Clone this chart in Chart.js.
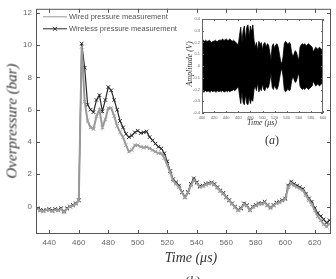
<!DOCTYPE html>
<html lang="en">
<head>
  <meta charset="UTF-8">
  <title>Overpressure</title>
  <script src="https://cdn.jsdelivr.net/npm/chart.js"></script>
  <style>
    body { margin: 0; background: #fff; }
    #wrap { position: relative; width: 336px; height: 279px; overflow: hidden; }
    #main { position: absolute; left: 0; top: 0; }
    #inset { position: absolute; left: 185px; top: 12px; }
    .lbl { position: absolute; font-family: 'Liberation Serif', serif; font-style: italic; font-weight: normal; color: #333; white-space: nowrap; }
  </style>
</head>
<body>
<div id="wrap">
  <canvas id="main" width="336" height="279"></canvas>
  <canvas id="inset" width="145" height="114"></canvas>
  <div class="lbl" style="left:12px;top:121px;font-size:15px;transform:translate(-50%,-50%) rotate(-90deg);">Overpressure (bar)</div>
  <div class="lbl" style="left:191px;top:258px;font-size:14px;transform:translate(-50%,-50%);">Time (μs)</div>
  <div class="lbl" style="left:193px;top:281px;font-size:13px;font-style:normal;transform:translate(-50%,-50%);">(<i>b</i>)</div>
  <div class="lbl" style="left:272px;top:140px;font-size:12px;font-style:normal;transform:translate(-50%,-50%);">(<i>a</i>)</div>
  <div class="lbl" style="left:189px;top:64px;font-size:8px;transform:translate(-50%,-50%) rotate(-90deg);">Amplitude (V)</div>
  <div class="lbl" style="left:262px;top:122px;font-size:8px;transform:translate(-50%,-50%);">Time (μs)</div>
</div>

<script>
  // main plot (b)
  const times = [];
  for (let t = 432; t <= 630; t += 2) times.push(t);

  const wired = [
    -0.15, -0.25, -0.3, -0.2, -0.2, -0.3, -0.2, -0.25, -0.15, -0.35,
    -0.15, 0.0, 0.05, 0.15, 0.35, 9.9, 6.5, 5.3, 4.9, 4.8,
    5.6, 6.0, 4.9, 5.4, 6.1, 6.1, 5.6, 5.0, 4.6, 4.3,
    3.8, 3.4, 3.5, 3.8, 3.8, 3.7, 3.65, 3.7, 3.6, 3.5,
    3.4, 3.3, 3.3, 3.0, 2.6, 2.1, 1.6, 1.4, 1.2, 0.85,
    0.55, 0.85, 1.3, 1.65, 1.45, 1.2, 1.25, 1.35, 1.4, 1.45,
    1.35, 1.15, 0.95, 0.8, 0.55, 0.35, 0.15, -0.05, -0.25, -0.15,
    0.15, 0.05, -0.25, -0.05, 0.05, 0.15, 0.15, 0.25, 0.05, -0.1,
    0.05, 0.2, 0.25, 0.35, 0.45, 1.2, 1.45, 1.3, 1.2, 1.1,
    1.0, 0.7, 0.4, 0.15, -0.25, -0.6, -0.85, -1.1, -1.25, -1.05
  ];
  const wireless = [
    -0.1, -0.2, -0.25, -0.2, -0.15, -0.25, -0.15, -0.2, -0.1, -0.3,
    -0.1, 0.0, 0.1, 0.2, 0.4, 10.1, 8.6, 6.3, 6.0, 5.85,
    6.6, 6.9, 5.9, 6.6, 7.4, 7.2, 6.6, 6.0, 5.3, 4.9,
    4.5, 4.3, 4.4, 4.6, 4.7, 4.55, 4.6, 4.65, 4.3, 4.1,
    3.9, 3.7, 3.6, 3.3, 2.8, 2.2, 1.7, 1.5, 1.3, 0.9,
    0.6, 0.9, 1.4, 1.75, 1.5, 1.25, 1.3, 1.4, 1.45, 1.5,
    1.4, 1.2, 1.0, 0.85, 0.6, 0.4, 0.2, 0.0, -0.2, -0.1,
    0.2, 0.1, -0.2, 0.0, 0.1, 0.2, 0.2, 0.3, 0.1, -0.05,
    0.1, 0.25, 0.3, 0.4, 0.5, 1.3, 1.55, 1.4, 1.3, 1.2,
    1.1, 0.8, 0.5, 0.3, -0.1, -0.4, -0.6, -0.8, -1.0, -0.85
  ];
  const xTicks = [440, 460, 480, 500, 520, 540, 560, 580, 600, 620];
  const yTicks = [0, 2, 4, 6, 8, 10, 12];
  const seriesNames = ['Wired pressure measurement', 'Wireless pressure measurement'];

  // inset (a): signal envelope
  const insetTimes = [];
  for (let t = 400; t <= 600; t += 2) insetTimes.push(t);
  const upperEnv = [
    0.21, 0.22, 0.21, 0.22, 0.21, 0.21, 0.22, 0.21, 0.20, 0.21,
    0.21, 0.22, 0.21, 0.21, 0.22, 0.22, 0.22, 0.23, 0.22, 0.22,
    0.23, 0.22, 0.22, 0.23, 0.22, 0.21, 0.22, 0.21, 0.20, 0.19,
    0.18, 0.26, 0.33, 0.20, 0.30, 0.34, 0.22, 0.33, 0.35, 0.25,
    0.34, 0.29, 0.35, 0.22, 0.16, 0.20, 0.13, 0.21, 0.18, 0.20,
    0.14, 0.19, 0.20, 0.16, 0.19, 0.18, 0.12, 0.05, 0.17, 0.19,
    0.15, 0.18, 0.19, 0.16, 0.10, 0.04, 0.02, 0.08, 0.19, 0.21,
    0.20, 0.18, 0.20, 0.19, 0.12, 0.08, 0.10, 0.13, 0.12, 0.08,
    0.05, 0.16, 0.18, 0.19, 0.18, 0.19, 0.17, 0.18, 0.19, 0.18,
    0.17, 0.16, 0.12, 0.14, 0.16, 0.15, 0.14, 0.16, 0.15, 0.14,
    0.15
  ];
  const lowerEnv = [
    -0.21, -0.22, -0.22, -0.21, -0.22, -0.21, -0.22, -0.22, -0.21, -0.22,
    -0.21, -0.22, -0.22, -0.21, -0.22, -0.21, -0.22, -0.21, -0.22, -0.22,
    -0.21, -0.22, -0.21, -0.22, -0.21, -0.21, -0.20, -0.21, -0.20, -0.19,
    -0.17, -0.25, -0.32, -0.22, -0.31, -0.33, -0.24, -0.32, -0.33, -0.26,
    -0.32, -0.28, -0.30, -0.20, -0.17, -0.21, -0.14, -0.22, -0.19, -0.21,
    -0.15, -0.20, -0.21, -0.17, -0.19, -0.18, -0.13, -0.06, -0.18, -0.20,
    -0.16, -0.19, -0.20, -0.17, -0.11, -0.05, -0.02, -0.09, -0.20, -0.22,
    -0.21, -0.19, -0.21, -0.20, -0.13, -0.09, -0.11, -0.14, -0.13, -0.09,
    -0.06, -0.17, -0.19, -0.20, -0.19, -0.20, -0.18, -0.19, -0.20, -0.19,
    -0.18, -0.17, -0.13, -0.15, -0.17, -0.16, -0.15, -0.17, -0.16, -0.15,
    -0.16
  ];
  const insetXTicks = [400, 420, 440, 460, 480, 500, 520, 540, 560, 580, 600];
  const insetYTicks = [-0.4, -0.3, -0.2, -0.1, 0, 0.1, 0.2, 0.3, 0.4];

  const tickFont = "'Liberation Sans Narrow', 'Liberation Sans', Arial, sans-serif";

  // box round the plot with inward ticks on all four sides
  function framePlugin(len, color) {
    return {
      id: 'frame',
      afterDraw(chart) {
        const { ctx, chartArea: a, scales } = chart;
        ctx.save();
        ctx.strokeStyle = color;
        ctx.lineWidth = 1;
        ctx.strokeRect(a.left + 0.5, a.top + 0.5, a.right - a.left - 1, a.bottom - a.top - 1);
        ctx.beginPath();
        scales.x.ticks.forEach(t => {
          const px = Math.round(scales.x.getPixelForValue(t.value)) + 0.5;
          ctx.moveTo(px, a.bottom); ctx.lineTo(px, a.bottom - len);
          ctx.moveTo(px, a.top); ctx.lineTo(px, a.top + len);
        });
        scales.y.ticks.forEach(t => {
          const py = Math.round(scales.y.getPixelForValue(t.value)) + 0.5;
          ctx.moveTo(a.left, py); ctx.lineTo(a.left + len, py);
          ctx.moveTo(a.right, py); ctx.lineTo(a.right - len, py);
        });
        ctx.stroke();
        ctx.restore();
      }
    };
  }

  const legendPlugin = {
    id: 'legendBox',
    afterDraw(chart) {
      const { ctx, chartArea: a } = chart;
      ctx.save();
      ctx.font = "7.5px 'Liberation Sans', Arial, sans-serif";
      ctx.textBaseline = 'middle';
      chart.data.datasets.forEach((ds, i) => {
        const y = a.top + 8 + i * 12;
        const x0 = a.left + 7, x1 = a.left + 31;
        ctx.strokeStyle = ds.borderColor;
        ctx.lineWidth = 1;
        ctx.beginPath(); ctx.moveTo(x0, y); ctx.lineTo(x1, y); ctx.stroke();
        if (i === 1) {
          const m = (x0 + x1) / 2;
          ctx.beginPath();
          ctx.moveTo(m - 2, y - 2); ctx.lineTo(m + 2, y + 2);
          ctx.moveTo(m - 2, y + 2); ctx.lineTo(m + 2, y - 2);
          ctx.stroke();
        }
        ctx.fillStyle = '#555';
        ctx.fillText(ds.label, x1 + 2, y);
      });
      ctx.restore();
    }
  };

  new Chart(document.getElementById('main'), {
    type: 'line',
    data: {
      datasets: [
        {
          label: seriesNames[0],
          data: wired.map((v, i) => ({ x: times[i], y: v })),
          borderColor: '#999999',
          borderWidth: 2,
          pointStyle: 'crossRot',
          pointRadius: 2.5,
          pointBorderColor: '#a0a0a0',
          pointBorderWidth: 1,
          tension: 0
        },
        {
          label: seriesNames[1],
          data: wireless.map((v, i) => ({ x: times[i], y: v })),
          borderColor: '#2a2a2a',
          borderWidth: 1.2,
          pointStyle: 'crossRot',
          pointRadius: 2.5,
          pointBorderColor: '#2a2a2a',
          pointBorderWidth: 1,
          tension: 0
        }
      ]
    },
    options: {
      responsive: false,
      animation: false,
      layout: { padding: { left: 0, right: 4, top: 8, bottom: 0 } },
      plugins: { legend: { display: false }, tooltip: { enabled: false } },
      scales: {
        x: {
          type: 'linear', min: 431, max: 631,
          afterBuildTicks: s => { s.ticks = xTicks.map(v => ({ value: v })); },
          afterFit: s => { s.height = 45; },
          grid: { display: false, drawTicks: false },
          border: { display: false },
          ticks: { padding: 4, color: '#666', font: { family: tickFont, size: 8 } }
        },
        y: {
          min: -1.7, max: 12.25,
          afterBuildTicks: s => { s.ticks = yTicks.map(v => ({ value: v })); },
          afterFit: s => { s.width = 36; },
          grid: { display: false, drawTicks: false },
          border: { display: false },
          ticks: { padding: 4, color: '#666', font: { family: tickFont, size: 8 } }
        }
      }
    },
    plugins: [framePlugin(4, '#555'), legendPlugin]
  });

  new Chart(document.getElementById('inset'), {
    type: 'line',
    data: {
      datasets: [
        {
          data: upperEnv.map((v, i) => ({ x: insetTimes[i], y: v })),
          borderColor: '#000',
          backgroundColor: '#000',
          borderWidth: 0.8,
          pointRadius: 0,
          fill: '+1',
          tension: 0
        },
        {
          data: lowerEnv.map((v, i) => ({ x: insetTimes[i], y: v })),
          borderColor: '#000',
          borderWidth: 0.8,
          pointRadius: 0,
          fill: false,
          tension: 0
        }
      ]
    },
    options: {
      responsive: false,
      animation: false,
      layout: { padding: { left: 0, right: 7, top: 7, bottom: 0 } },
      plugins: { legend: { display: false }, tooltip: { enabled: false } },
      scales: {
        x: {
          type: 'linear', min: 400, max: 600,
          afterBuildTicks: s => { s.ticks = insetXTicks.map(v => ({ value: v })); },
          afterFit: s => { s.height = 13; },
          grid: { display: false, drawTicks: false },
          border: { display: false },
          ticks: { padding: 2, color: '#666', maxRotation: 0, autoSkip: false, font: { family: tickFont, size: 4 } }
        },
        y: {
          min: -0.4, max: 0.4,
          afterBuildTicks: s => { s.ticks = insetYTicks.map(v => ({ value: v })); },
          afterFit: s => { s.width = 17; },
          grid: { display: false, drawTicks: false },
          border: { display: false },
          ticks: { padding: 2, color: '#666', autoSkip: false, font: { family: tickFont, size: 4 } }
        }
      }
    },
    plugins: [framePlugin(2, '#666')]
  });
</script>
</body>
</html>
